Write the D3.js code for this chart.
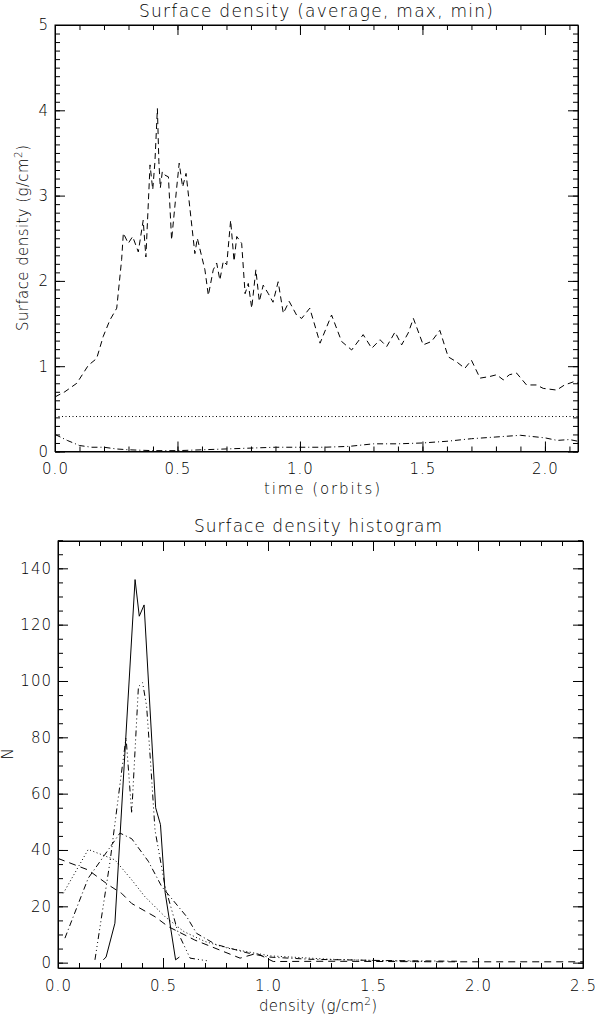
<!DOCTYPE html>
<html>
<head>
<meta charset="utf-8">
<script src="https://cdn.jsdelivr.net/npm/d3@7"></script>
<style>
  html, body { margin: 0; padding: 0; background: #fff; }
  svg { display: block; }
  text { font-family: "DejaVu Sans", "Liberation Sans", sans-serif; fill: #000; font-weight: 200; }
</style>
</head>
<body>
<script>
// ---------- Top chart data: surface density vs time ----------
const maxT = [0, 0.04, 0.089, 0.136, 0.17, 0.197, 0.224, 0.252, 0.272, 0.279, 0.299, 0.317, 0.34, 0.36, 0.371,
  0.388, 0.399, 0.408, 0.418, 0.424, 0.43, 0.438, 0.449, 0.463, 0.476, 0.497, 0.507, 0.521, 0.535, 0.571, 0.581,
  0.612, 0.626, 0.646, 0.66, 0.673, 0.687, 0.701, 0.717, 0.731, 0.742, 0.762, 0.776, 0.789, 0.803, 0.82, 0.834,
  0.85, 0.871, 0.89, 0.911, 0.932, 0.956, 0.986, 1.007, 1.04, 1.082, 1.129, 1.17, 1.211, 1.258, 1.293, 1.327,
  1.354, 1.388, 1.415, 1.442, 1.463, 1.503, 1.537, 1.571, 1.605, 1.64, 1.673, 1.70, 1.735, 1.776, 1.803, 1.83,
  1.855, 1.884, 1.925, 1.966, 1.993, 2.048, 2.08, 2.12, 2.135];
const maxV = [0.64, 0.70, 0.80, 1.01, 1.09, 1.35, 1.54, 1.68, 2.25, 2.56, 2.44, 2.52, 2.34, 2.71, 2.28,
  3.36, 3.07, 3.40, 4.02, 3.40, 3.09, 3.28, 3.24, 3.22, 2.48, 3.10, 3.38, 3.10, 3.26, 2.32, 2.50,
  2.13, 1.83, 2.13, 2.21, 2.01, 2.23, 2.19, 2.71, 2.23, 2.52, 2.44, 1.85, 1.97, 1.68, 2.13, 1.76,
  1.95, 1.85, 1.75, 1.99, 1.62, 1.76, 1.60, 1.56, 1.68, 1.27, 1.60, 1.29, 1.19, 1.37, 1.21, 1.31,
  1.23, 1.40, 1.25, 1.39, 1.56, 1.25, 1.29, 1.42, 1.11, 1.05, 0.975, 1.07, 0.86, 0.88, 0.90, 0.84,
  0.90, 0.92, 0.78, 0.78, 0.74, 0.72, 0.78, 0.82, 0.80];
const avgT = [0, 2.135];
const avgV = [0.41, 0.41];
const minT = [0, 0.05, 0.1, 0.15, 0.2, 0.25, 0.3, 0.4, 0.5, 0.6, 0.7, 0.8, 0.9, 1.0, 1.1, 1.2, 1.3, 1.4,
  1.5, 1.6, 1.7, 1.8, 1.9, 2.0, 2.05, 2.1, 2.135];
const minV = [0.20, 0.13, 0.07, 0.05, 0.05, 0.03, 0.02, 0.01, 0.01, 0.02, 0.03, 0.04, 0.05, 0.05, 0.05, 0.06,
  0.09, 0.09, 0.10, 0.12, 0.15, 0.17, 0.19, 0.16, 0.13, 0.14, 0.12];

const topXTicks = [0, 0.5, 1.0, 1.5, 2.0];
const topYTicks = [0, 1, 2, 3, 4, 5];

// ---------- Bottom chart data: histograms ----------
const hSolidX = [0.216, 0.229, 0.271, 0.367, 0.387, 0.41, 0.465, 0.488, 0.51, 0.56, 0.578];
const hSolidY = [1, 2, 14, 136, 123, 127, 55, 49, 25, 1, 2];
const hDotX = [0.025, 0.144, 0.271, 0.351, 0.414, 0.51, 0.6, 0.7, 0.811, 1.01, 1.295, 1.6, 1.75];
const hDotY = [24.6, 40.2, 36.5, 29.4, 23.4, 16.3, 11, 7.5, 5.1, 2.4, 1.2, 0.6, 0.4];
const hDashX = [0.0, 0.144, 0.24, 0.303, 0.351, 0.462, 0.525, 0.652, 0.867, 0.946, 1.025, 1.3, 1.8, 2.5];
const hDashY = [37, 32.9, 27.6, 24.6, 21, 16.3, 12.8, 8, 1.6, 3.3, 0.4, 0.5, 0.3, 0.3];
const hDashDotX = [0.033, 0.144, 0.22, 0.295, 0.351, 0.43, 0.494, 0.613, 0.66, 0.75, 0.9, 1.0, 1.2, 1.5, 1.9];
const hDashDotY = [8.7, 30, 38, 46, 44, 36, 27, 16.3, 10.4, 6.5, 3.5, 2, 1.2, 0.8, 0.5];
const hDash3X = [0.176, 0.248, 0.324, 0.351, 0.383, 0.403, 0.422, 0.44, 0.462, 0.51, 0.573, 0.629, 0.716];
const hDash3Y = [1, 36, 80, 53, 98, 99.4, 91, 72, 47, 27, 10.4, 1.6, 0.6];

const botXTicks = [0, 0.5, 1.0, 1.5, 2.0, 2.5];
const botYTicks = [0, 20, 40, 60, 80, 100, 120, 140];

// ---------- Drawing ----------
const W = 596, H = 1021;
const svg = d3.select("body").append("svg").attr("width", W).attr("height", H);

function range(a, b, step) {
  const out = [];
  for (let v = a; v <= b + 1e-9; v += step) out.push(Math.round(v * 1000) / 1000);
  return out;
}

function frame(x, y, xMaj, xMin, yMaj, yMin, xFmt, yFmt, xLabelPad) {
  const [x0, x1] = x.range();
  const [y0, y1] = y.range(); // y0 bottom, y1 top
  const g = svg.append("g");
  const style = sel => {
    sel.selectAll("path.domain").attr("stroke", "#000").attr("stroke-width", 1);
    sel.selectAll(".tick line").attr("stroke", "#000").attr("stroke-width", 1);
    sel.selectAll("text").style("font-size", "15px").attr("fill", "#000").style("letter-spacing", "1px")
      .style("font-family", '"DejaVu Sans", sans-serif').style("font-weight", "200");
  };
  // bottom
  g.append("g").attr("transform", `translate(0,${y0})`)
    .call(d3.axisBottom(x).tickValues(xMin).tickSize(-5).tickSizeOuter(0).tickFormat(""))
    .call(style);
  g.append("g").attr("transform", `translate(0,${y0})`)
    .call(d3.axisBottom(x).tickValues(xMaj).tickSize(-10).tickSizeOuter(0).tickPadding(xLabelPad).tickFormat(xFmt))
    .call(style).call(s => s.select("path.domain").remove());
  // top
  g.append("g").attr("transform", `translate(0,${y1})`)
    .call(d3.axisTop(x).tickValues(xMin).tickSize(-5).tickSizeOuter(0).tickFormat(""))
    .call(style);
  g.append("g").attr("transform", `translate(0,${y1})`)
    .call(d3.axisTop(x).tickValues(xMaj).tickSize(-10).tickSizeOuter(0).tickFormat(""))
    .call(style).call(s => s.select("path.domain").remove());
  // left
  g.append("g").attr("transform", `translate(${x0},0)`)
    .call(d3.axisLeft(y).tickValues(yMin).tickSize(-5).tickSizeOuter(0).tickFormat(""))
    .call(style);
  g.append("g").attr("transform", `translate(${x0},0)`)
    .call(d3.axisLeft(y).tickValues(yMaj).tickSize(-10).tickSizeOuter(0).tickPadding(6).tickFormat(yFmt))
    .call(style).call(s => s.select("path.domain").remove());
  // right
  g.append("g").attr("transform", `translate(${x1},0)`)
    .call(d3.axisRight(y).tickValues(yMin).tickSize(-5).tickSizeOuter(0).tickFormat(""))
    .call(style);
  g.append("g").attr("transform", `translate(${x1},0)`)
    .call(d3.axisRight(y).tickValues(yMaj).tickSize(-10).tickSizeOuter(0).tickFormat(""))
    .call(style).call(s => s.select("path.domain").remove());
  // full box
  g.append("rect").attr("x", x0).attr("y", y1).attr("width", x1 - x0).attr("height", y0 - y1)
    .attr("fill", "none").attr("stroke", "#000").attr("stroke-width", 1);
}

function series(x, y, xs, ys, dash) {
  const line = d3.line().x(d => x(d[0])).y(d => y(d[1]));
  svg.append("path").datum(xs.map((v, i) => [v, ys[i]]))
    .attr("d", line).attr("fill", "none").attr("stroke", "#000").attr("stroke-width", 1)
    .attr("stroke-dasharray", dash);
}

function label(txt, x, y, size, len, rotate) {
  const t = svg.append("text").attr("text-anchor", "middle").style("font-size", size + "px");
  if (rotate) t.attr("transform", `translate(${x},${y}) rotate(-90)`);
  else t.attr("x", x).attr("y", y);
  if (Array.isArray(txt)) {
    txt.forEach(p => {
      const ts = t.append("tspan").text(p.t);
      if (p.sup) ts.attr("baseline-shift", "super").style("font-size", (size * 0.7) + "px");
    });
  } else t.text(txt);
  if (len) t.attr("textLength", len).attr("lengthAdjust", "spacing");
  return t;
}

// ----- Top chart -----
const xT = d3.scaleLinear().domain([0, 2.135]).range([55, 578]);
const yT = d3.scaleLinear().domain([0, 5]).range([451.5, 25]);
frame(xT, yT, topXTicks, range(0, 2.1, 0.1), topYTicks, range(0, 5, 0.1),
  d3.format(".1f"), d3.format("d"), 12);
series(xT, yT, maxT, maxV, "6,4");
series(xT, yT, avgT, avgV, "1,2.5");
series(xT, yT, minT, minV, "6,3,1,3");
label("Surface density (average, max, min)", 316, 17, 17, 354);
label("time (orbits)", 322, 494, 15, 116);
label([{t: "Surface density (g/cm"}, {t: "2", sup: true}, {t: ")"}], 28, 238, 15, 186, true);

// ----- Bottom chart -----
const xB = d3.scaleLinear().domain([0, 2.5]).range([58, 583]);
const yB = d3.scaleLinear().domain([-1.9, 149.7]).range([968, 541]);
frame(xB, yB, botXTicks, range(0, 2.5, 0.1), botYTicks, range(0, 150, 5),
  d3.format(".1f"), d3.format("d"), 12);
series(xB, yB, hSolidX, hSolidY, null);
series(xB, yB, hDotX, hDotY, "1,2.5");
series(xB, yB, hDashX, hDashY, "7,5");
series(xB, yB, hDashDotX, hDashDotY, "6,3,1,3");
series(xB, yB, hDash3X, hDash3Y, "6,3,1,3,1,3,1,3");
label("Surface density histogram", 318, 532, 17, 248);
label([{t: "density (g/cm"}, {t: "2", sup: true}, {t: ")"}], 318, 1011, 15, 118);
label("N", 13, 754, 15, null, true);
</script>
</body>
</html>
